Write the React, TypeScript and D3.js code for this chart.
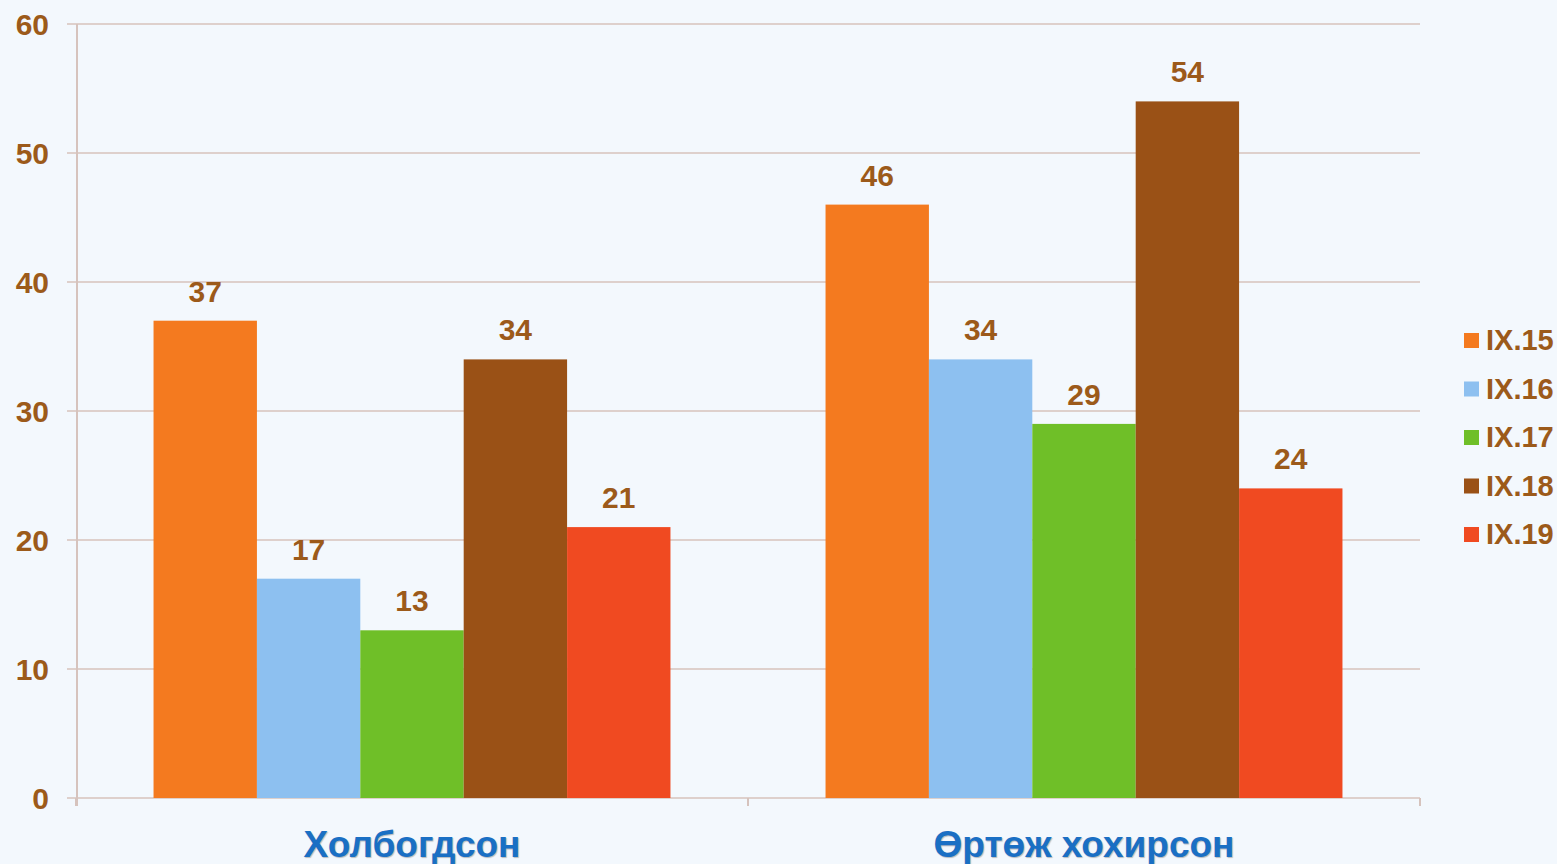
import React from 'react'
import * as d3 from 'd3'

const categories = ['Холбогдсон', 'Өртөж хохирсон']
const seriesNames = ['IX.15', 'IX.16', 'IX.17', 'IX.18', 'IX.19']
const seriesColors = ['#f47a1f', '#8dc0f0', '#6fbf28', '#9a5116', '#f04a21']
const values = [
  [37, 46],
  [17, 34],
  [13, 29],
  [34, 54],
  [21, 24],
]
const yTicks = [0, 10, 20, 30, 40, 50, 60]

const W = 1557
const H = 864
const margin = { top: 24, right: 137, bottom: 66, left: 76 }
const labelColor = '#9c5a1a'
const font = 'Arial, "Liberation Sans", sans-serif'

export default function App() {
  const plotW = W - margin.left - margin.right
  const plotH = H - margin.top - margin.bottom

  const x0 = d3.scaleBand().domain(categories).range([0, plotW]).padding(0)
  const x1 = d3.scaleBand().domain(seriesNames).range([0, x0.bandwidth()]).paddingInner(0).paddingOuter(0.75)
  const y = d3.scaleLinear().domain([0, 60]).range([plotH, 0])

  const bounds = [0, ...categories.map((c) => (x0(c) as number) + x0.bandwidth())]

  return (
    <svg width={W} height={H} style={{ position: 'absolute', left: 0, top: 0, background: '#f3f8fd' }}>
      <rect width={W} height={H} fill="#f3f8fd" />
      <g transform={`translate(${margin.left},${margin.top})`}>
        {yTicks.map((t) => (
          <g key={t}>
            <line x1={-9} x2={plotW} y1={y(t)} y2={y(t)} stroke="#caa79b" strokeWidth={1.2} />
            <text x={-27} y={y(t)} dy="0.36em" textAnchor="end" fontFamily={font} fontWeight="bold" fontSize={30} fill={labelColor}>
              {t}
            </text>
          </g>
        ))}
        <line x1={1} x2={1} y1={0} y2={plotH + 8} stroke="#d6c3bd" strokeWidth={2} />
        {bounds.map((b, i) => (
          <line key={i} x1={b} x2={b} y1={plotH} y2={plotH + 8} stroke="#d6c3bd" strokeWidth={2} />
        ))}
        {seriesNames.map((s, si) =>
          categories.map((c, ci) => {
            const v = values[si][ci]
            const bx = (x0(c) as number) + (x1(s) as number)
            return (
              <g key={s + c}>
                <rect x={bx} y={y(v)} width={x1.bandwidth()} height={plotH - y(v)} fill={seriesColors[si]} />
                <text x={bx + x1.bandwidth() / 2} y={y(v) - 19} textAnchor="middle" fontFamily={font} fontWeight="bold" fontSize={30} fill={labelColor}>
                  {v}
                </text>
              </g>
            )
          })
        )}
        {categories.map((c) => (
          <text key={c} x={(x0(c) as number) + x0.bandwidth() / 2} y={plotH + 59} textAnchor="middle" fontFamily={font} fontWeight="bold" fontSize={37} fill="#1a6fc4" style={{ textShadow: '1px 1px 1px rgba(0,0,0,0.25)' }}>
            {c}
          </text>
        ))}
      </g>
      <g transform="translate(1464,340)">
        {seriesNames.map((s, i) => (
          <g key={s} transform={`translate(0,${i * 48.5})`}>
            <rect x={0} y={-7} width={15} height={15} fill={seriesColors[i]} />
            <text x={22} y={0} dy="0.36em" fontFamily={font} fontWeight="bold" fontSize={29} fill={labelColor}>
              {s}
            </text>
          </g>
        ))}
      </g>
    </svg>
  )
}
